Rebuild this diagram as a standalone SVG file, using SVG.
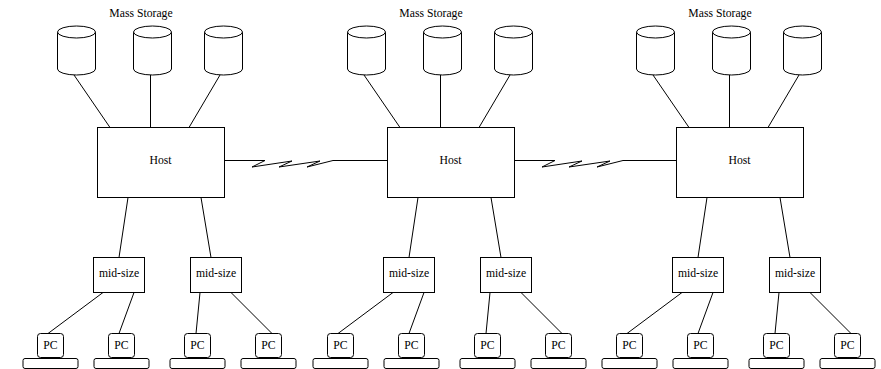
<svg xmlns="http://www.w3.org/2000/svg" xmlns:xlink="http://www.w3.org/1999/xlink" width="881" height="369" viewBox="0 0 881 369">
<style>
.s{fill:#fff;stroke:#000;stroke-width:1}
.c{fill:none;stroke:#000;stroke-width:1}
text{font-family:"Liberation Serif","DejaVu Serif","Times New Roman",serif;font-size:11.7px;fill:#000;text-anchor:middle}
</style>
<defs>
<g id="cyl">
<path class="s" d="M0,0 V37 A19,6 0 0 0 38,37 V0"/>
<ellipse class="s" cx="19" cy="0" rx="19" ry="6"/>
</g>
<g id="pc">
<rect class="s" x="0" y="0" width="26" height="24" rx="3"/>
<rect class="s" x="-14.5" y="25" width="55" height="10" rx="2"/>
</g>
</defs>
<rect width="881" height="369" fill="#fff"/>
<g id="connectors" class="c">
<line x1="74" y1="75" x2="110" y2="127.5"/>
<line x1="150.5" y1="75" x2="150.5" y2="127.5"/>
<line x1="220" y1="75" x2="189" y2="127.5"/>
<line x1="128" y1="197.5" x2="119" y2="257.5"/>
<line x1="201" y1="197.5" x2="211" y2="257.5"/>
<line x1="103" y1="292.5" x2="48" y2="333.5"/>
<line x1="134" y1="292.5" x2="119" y2="333.5"/>
<line x1="200" y1="292.5" x2="196" y2="333.5"/>
<line x1="231" y1="292.5" x2="272" y2="333.5"/>
<line x1="364" y1="75" x2="400" y2="127.5"/>
<line x1="440.5" y1="75" x2="440.5" y2="127.5"/>
<line x1="510" y1="75" x2="479" y2="127.5"/>
<line x1="418" y1="197.5" x2="409" y2="257.5"/>
<line x1="491" y1="197.5" x2="501" y2="257.5"/>
<line x1="393" y1="292.5" x2="338" y2="333.5"/>
<line x1="424" y1="292.5" x2="409" y2="333.5"/>
<line x1="490" y1="292.5" x2="486" y2="333.5"/>
<line x1="521" y1="292.5" x2="562" y2="333.5"/>
<line x1="653" y1="75" x2="689" y2="127.5"/>
<line x1="729.5" y1="75" x2="729.5" y2="127.5"/>
<line x1="799" y1="75" x2="768" y2="127.5"/>
<line x1="707" y1="197.5" x2="698" y2="257.5"/>
<line x1="780" y1="197.5" x2="790" y2="257.5"/>
<line x1="682" y1="292.5" x2="627" y2="333.5"/>
<line x1="713" y1="292.5" x2="698" y2="333.5"/>
<line x1="779" y1="292.5" x2="775" y2="333.5"/>
<line x1="810" y1="292.5" x2="851" y2="333.5"/>
<polyline points="224,160.5 265,160.5 252,167 292,161 279,167 320,161 307,167 333,160.5 387,160.5"/>
<polyline points="514,160.5 555,160.5 542,167 582,161 569,167 610,161 597,167 623,160.5 676,160.5"/>
</g>
<g id="ms1"><text x="141" y="17">Mass Storage</text></g>
<g id="disk1a"><use xlink:href="#cyl" x="57.5" y="32"/></g>
<g id="disk1b"><use xlink:href="#cyl" x="133.5" y="32"/></g>
<g id="disk1c"><use xlink:href="#cyl" x="204.5" y="32"/></g>
<g id="host1"><rect class="s" x="97.5" y="127.5" width="127" height="70"/><text x="160.5" y="164">Host</text></g>
<g id="mid1a"><rect class="s" x="93.5" y="257.5" width="51" height="35"/><text x="119" y="277">mid-size</text></g>
<g id="mid1b"><rect class="s" x="190.5" y="257.5" width="51" height="35"/><text x="216" y="277">mid-size</text></g>
<g id="pc1a"><use xlink:href="#pc" x="37.5" y="333.5"/><text x="50.5" y="349">PC</text></g>
<g id="pc1b"><use xlink:href="#pc" x="108.5" y="333.5"/><text x="121.5" y="349">PC</text></g>
<g id="pc1c"><use xlink:href="#pc" x="184.5" y="333.5"/><text x="197.5" y="349">PC</text></g>
<g id="pc1d"><use xlink:href="#pc" x="255.5" y="333.5"/><text x="268.5" y="349">PC</text></g>
<g id="ms2"><text x="431" y="17">Mass Storage</text></g>
<g id="disk2a"><use xlink:href="#cyl" x="347.5" y="32"/></g>
<g id="disk2b"><use xlink:href="#cyl" x="423.5" y="32"/></g>
<g id="disk2c"><use xlink:href="#cyl" x="494.5" y="32"/></g>
<g id="host2"><rect class="s" x="387.5" y="127.5" width="127" height="70"/><text x="450.5" y="164">Host</text></g>
<g id="mid2a"><rect class="s" x="383.5" y="257.5" width="51" height="35"/><text x="409" y="277">mid-size</text></g>
<g id="mid2b"><rect class="s" x="480.5" y="257.5" width="51" height="35"/><text x="506" y="277">mid-size</text></g>
<g id="pc2a"><use xlink:href="#pc" x="327.5" y="333.5"/><text x="340.5" y="349">PC</text></g>
<g id="pc2b"><use xlink:href="#pc" x="398.5" y="333.5"/><text x="411.5" y="349">PC</text></g>
<g id="pc2c"><use xlink:href="#pc" x="474.5" y="333.5"/><text x="487.5" y="349">PC</text></g>
<g id="pc2d"><use xlink:href="#pc" x="545.5" y="333.5"/><text x="558.5" y="349">PC</text></g>
<g id="ms3"><text x="720" y="17">Mass Storage</text></g>
<g id="disk3a"><use xlink:href="#cyl" x="636.5" y="32"/></g>
<g id="disk3b"><use xlink:href="#cyl" x="712.5" y="32"/></g>
<g id="disk3c"><use xlink:href="#cyl" x="783.5" y="32"/></g>
<g id="host3"><rect class="s" x="676.5" y="127.5" width="127" height="70"/><text x="739.5" y="164">Host</text></g>
<g id="mid3a"><rect class="s" x="672.5" y="257.5" width="51" height="35"/><text x="698" y="277">mid-size</text></g>
<g id="mid3b"><rect class="s" x="769.5" y="257.5" width="51" height="35"/><text x="795" y="277">mid-size</text></g>
<g id="pc3a"><use xlink:href="#pc" x="616.5" y="333.5"/><text x="629.5" y="349">PC</text></g>
<g id="pc3b"><use xlink:href="#pc" x="687.5" y="333.5"/><text x="700.5" y="349">PC</text></g>
<g id="pc3c"><use xlink:href="#pc" x="763.5" y="333.5"/><text x="776.5" y="349">PC</text></g>
<g id="pc3d"><use xlink:href="#pc" x="834.5" y="333.5"/><text x="847.5" y="349">PC</text></g>
</svg>
